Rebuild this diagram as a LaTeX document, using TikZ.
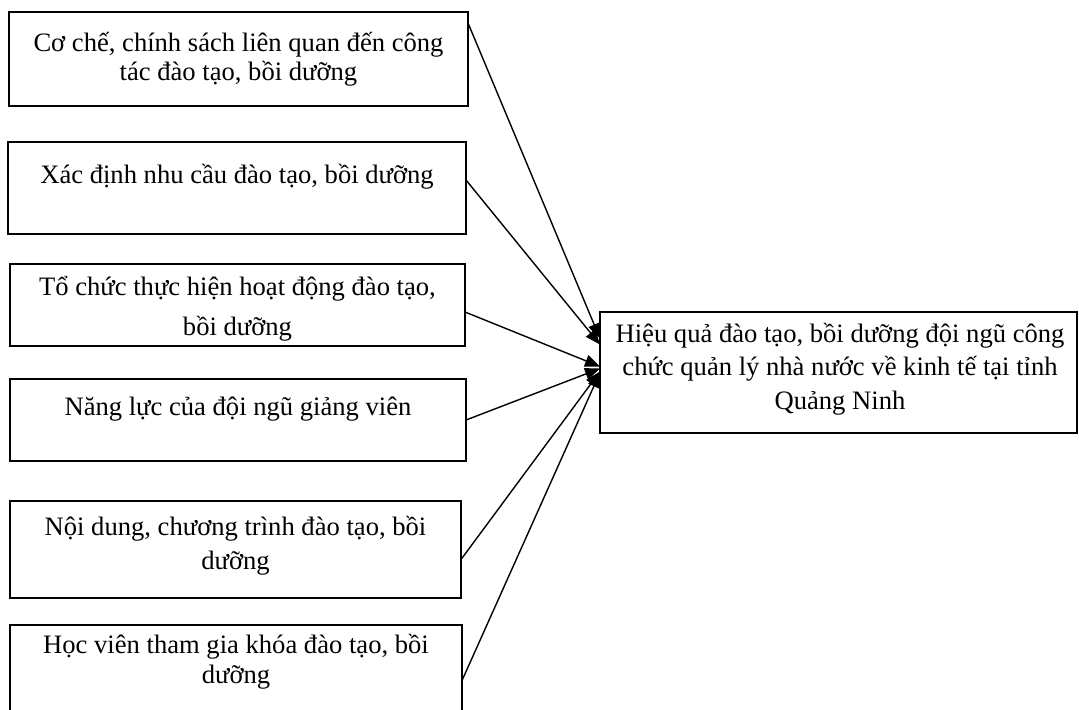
\documentclass[tikz,border=0pt]{standalone}
\usepackage{fontspec}
\setmainfont{Liberation Serif}
\usetikzlibrary{arrows.meta}

\begin{document}
\begin{tikzpicture}[x=1pt,y=-1pt,
    khung/.style={draw,line width=0.9pt,inner sep=0pt,outer sep=0pt},
    chu/.style={align=center,anchor=base,inner sep=0pt,
        font=\fontsize{13.3}{15.5}\selectfont},
    muiten/.style={line width=0.7pt,-{Triangle[length=7.5pt,width=6pt]}}]

\useasboundingbox (0,0) rectangle (539.5,354.5);

% Left boxes (text placed at the baseline of its last line)
\node[khung,minimum width=229.5pt,minimum height=47pt] (c1) at (119.25,29.5) {};
\node[chu] (t1) at (119.25,40) {Cơ chế, chính sách liên quan đến công\\[-1pt]tác đào tạo, bồi dưỡng};

\node[khung,minimum width=229pt,minimum height=46pt] (c2) at (118.5,94) {};
\node[chu] (t2) at (118.5,91.5) {Xác định nhu cầu đào tạo, bồi dưỡng};

\node[khung,minimum width=227.5pt,minimum height=41pt] (c3) at (118.75,152.5) {};
\node[chu] (t3) at (118.75,167.5) {Tổ chức thực hiện hoạt động đào tạo,\\[4.5pt]bồi dưỡng};

\node[khung,minimum width=228pt,minimum height=41pt] (c4) at (119,210) {};
\node[chu] (t4) at (119,207.5) {Năng lực của đội ngũ giảng viên};

\node[khung,minimum width=225.5pt,minimum height=48.5pt] (c5) at (117.75,274.75) {};
\node[chu] (t5) at (117.75,284.5) {Nội dung, chương trình đào tạo, bồi\\[1.5pt]dưỡng};

\node[khung,minimum width=226pt,minimum height=47.5pt] (c6) at (118,336.25) {};
\node[chu] (t6) at (118,341.5) {Học viên tham gia khóa đào tạo, bồi\\[-0.5pt]dưỡng};

% Result box
\node[khung,minimum width=238.5pt,minimum height=60.5pt] (kq) at (419.25,186.25) {};
\node[chu] (tkq) at (420,204.5) {Hiệu quả đào tạo, bồi dưỡng đội ngũ công\\[1.25pt]chức quản lý nhà nước về kinh tế tại tỉnh\\[1.25pt]Quảng Ninh};

% Arrows
\draw[muiten] ([yshift=18pt]c1.east) -- ([yshift=17pt]kq.west);
\draw[muiten] ([yshift=4pt]c2.east) -- ([yshift=14pt]kq.west);
\draw[muiten] ([yshift=-3.5pt]c3.east) -- ([yshift=3pt]kq.west);
\draw[muiten] (c4.east) -- ([yshift=2pt]kq.west);
\draw[muiten] ([yshift=-5pt]c5.east) -- ([yshift=0.5pt]kq.west);
\draw[muiten] ([yshift=-4pt]c6.east) -- (kq.west);

\end{tikzpicture}
\end{document}
